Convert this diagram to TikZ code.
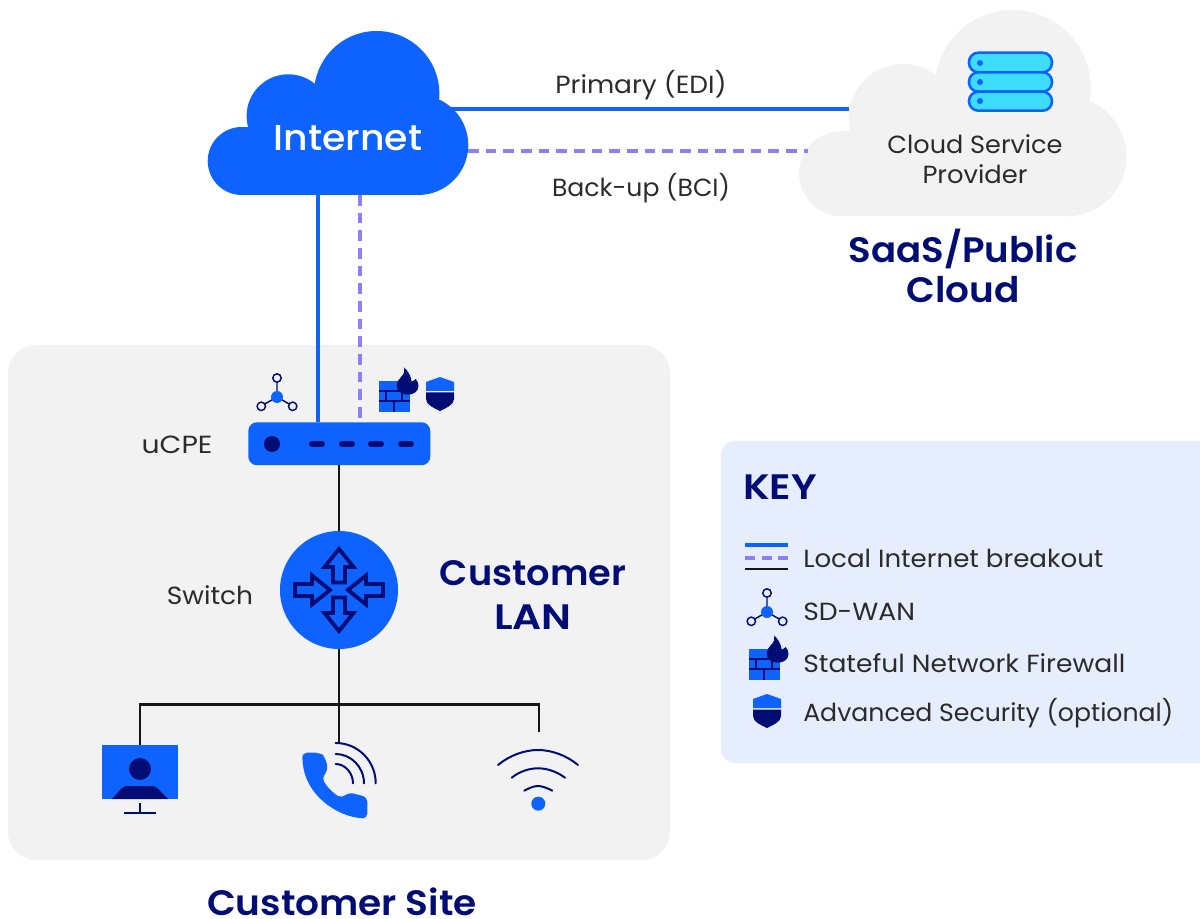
\documentclass[tikz,border=0pt]{standalone}
\usepackage{fontspec}
\usepackage{graphicx}
\setmainfont{Poppins}
\newfontfamily\headfont{Poppins SemiBold}
\newfontfamily\medfont{Poppins Medium}
\newcommand{\sx}[2]{\scalebox{#1}[1]{#2}}
\definecolor{brand}{HTML}{0E63FF}
\definecolor{navy}{HTML}{000D74}
\definecolor{lilac}{HTML}{8C7FFF}
\definecolor{panel}{HTML}{F2F2F2}
\definecolor{keybg}{HTML}{E6EDFC}
\definecolor{ink}{HTML}{2B2B2B}
\definecolor{wire}{HTML}{161616}
\definecolor{cyanfill}{HTML}{3DDCF8}
\tikzset{
  x=0.75pt,y=-0.75pt,
  lbl/.style={inner sep=0pt,text=ink,font=\fontsize{18.6}{22}\selectfont},
  keylbl/.style={lbl,anchor=west},
  head/.style={inner sep=0pt,text=navy,font=\fontsize{26.5}{30}\headfont},
  solidline/.style={draw=brand,line width=3pt},
  dashline/.style={draw=lilac,line width=3pt,dash pattern=on 8pt off 5.25pt},
  wireline/.style={draw=wire,line width=1.6pt},
  navyline/.style={draw=navy,line width=1.5pt,line cap=round},
  sdwanicon/.pic={
    \draw[navy,line width=1.1pt] (0,0)--(0,-15) (0,0)--(-13,7.5) (0,0)--(13,7.5);
    \fill[brand] (0,0) circle (6);
    \draw[navy,line width=1.1pt] (0,-19) circle (4.2) (-15.7,9.3) circle (4.2) (15.7,9.3) circle (4.2);
  },
  fwicon/.pic={
    \fill[brand] (0,0) rectangle (31,31);
    \draw[navy,line width=1.1pt] (0,10)--(31,10) (0,20)--(31,20) (7,10)--(7,20) (23,10)--(23,20) (15,20)--(15,31);
    \fill[navy] (25.3,-13.5) .. controls (29,-10) and (32,-5) .. (32.7,0.5)
      .. controls (34,0) and (35.5,-0.5) .. (36.7,-2) .. controls (38.5,0) and (39.5,2.5) .. (39.5,5)
      .. controls (39.5,10) and (35,13.7) .. (29,13.7) .. controls (23,13.7) and (17.7,10.5) .. (17.7,5)
      .. controls (17.7,1) and (20,-2) .. (22,-4) .. controls (25,-7) and (26,-10) .. (25.3,-13.5) -- cycle;
  },
  shieldicon/.pic={
    \fill[brand] (0,0) -- (14,5) -- (14,14) -- (-14,14) -- (-14,5) -- cycle;
    \fill[navy] (-14,15.5) -- (14,15.5) -- (14,22) .. controls (14,28) and (6,31) .. (0,34)
      .. controls (-6,31) and (-14,28) .. (-14,22) -- cycle;
  },
  arrowoutline/.style={draw=navy,line width=2.9pt,miter limit=10},
}
\begin{document}
\begin{tikzpicture}
\useasboundingbox (0,0) rectangle (1200,919);
% panels
\fill[panel,rounded corners=21pt] (8,345) rectangle (670,860);
\begin{scope}
\clip (0,0) rectangle (1200,919);
\fill[keybg,rounded corners=10.5pt] (721,441) rectangle (1215,763);
\end{scope}
% Internet cloud
\fill[brand] (288.3,116) circle (41.7);
\fill[brand] (376.7,93.7) circle (62.7);
\fill[brand] (418.3,145) circle (50);
\fill[brand] (241.7,161) circle (34);
\fill[brand] (241.7,127) rectangle (418.3,195);
\fill[brand] (288.3,100) rectangle (418.3,195);
% Provider cloud
\fill[panel] (1012.7,88) circle (78);
\fill[panel] (902.7,118) circle (54);
\fill[panel] (1066.7,156.5) circle (59.8);
\fill[panel] (841.7,173.7) circle (42.6);
\fill[panel] (841.7,131.1) rectangle (1066.7,216.3);
\fill[panel] (902.7,100) rectangle (1066.7,216.3);
% server icon
\foreach \ya/\yb/\yc in {52.7/72.3/63,72.3/91.7/82,91.7/110.7/101}{
  \draw[fill=cyanfill,draw=brand,line width=1.9pt,rounded corners=7pt] (969,\ya) rectangle (1052,\yb);
  \fill[brand] (980,\yc) circle (3);
}
% device nodes
\node (ucpe) [draw=none,fill=brand,rounded corners=6.5pt,minimum width=136.5pt,minimum height=32.2pt,inner sep=0pt,anchor=north west] at (248,422) {};
\node (switch) [circle,fill=brand,minimum size=88.5pt,inner sep=0pt] at (339,590) {};
\node (monitor) [fill=brand,minimum width=57pt,minimum height=40.5pt,inner sep=0pt,anchor=north west] at (102,745) {};
% connector ends
\coordinate (inetE1) at (448,109);
\coordinate (cspE1) at (849,109);
\coordinate (inetE2) at (468,151);
\coordinate (cspE2) at (808,151);
\coordinate (inetS1) at (318,195);
\coordinate (inetS2) at (360,195);
\coordinate (ucpeN1) at (318,422);
\coordinate (ucpeN2) at (360,422);
\coordinate (ucpeS) at (339,465);
\coordinate (switchN) at (339,531);
\coordinate (switchS) at (339,649);
\coordinate (bus) at (339,704.5);
\coordinate (phoneTop) at (339,742);
\coordinate (wifiTop) at (539,732);
\coordinate (monTop) at (140,745);
\draw[solidline] (inetE1) -- (cspE1);
\draw[dashline] (inetE2) -- (cspE2);
\draw[solidline] (inetS1) -- (ucpeN1);
\draw[dashline] (inetS2) -- (ucpeN2);
\draw[wireline] (ucpeS) -- (switchN);
\draw[wireline] (switchS) -- (phoneTop);
\draw[wireline] (monTop) |- (bus) -| (wifiTop);
% uCPE details
\fill[navy] (272,444) circle (8);
\foreach \xa/\xb in {309/325,339/355,368/384,398/414}{
  \draw[navy,line width=4.5pt,line cap=round] (\xa+3,444) -- (\xb-3,444);
}
% switch arrows
\begin{scope}[shift={(switch.center)}]
  \path[arrowoutline] (0,-41)--(14.5,-23)--(6,-23)--(6,-7.5)--(-6,-7.5)--(-6,-23)--(-14.5,-23)--cycle;
  \path[arrowoutline] (0,41)--(14.5,23)--(6,23)--(6,7.5)--(-6,7.5)--(-6,23)--(-14.5,23)--cycle;
  \path[arrowoutline] (-9,0)--(-27,14.5)--(-27,6)--(-44,6)--(-44,-6)--(-27,-6)--(-27,-14.5)--cycle;
  \path[arrowoutline] (9,0)--(27,14.5)--(27,6)--(44,6)--(44,-6)--(27,-6)--(27,-14.5)--cycle;
\end{scope}
% icons
\pic at (277,397) {sdwanicon};
\pic at (767,612) {sdwanicon};
\pic at (379,381) {fwicon};
\pic at (749,649) {fwicon};
\pic at (440,377) {shieldicon};
\pic at (767,694) {shieldicon};
% monitor
\fill[navy] (140,769) circle (11);
\fill[navy] (112,799) -- (122,788) .. controls (124,786) and (126,786) .. (128,786) -- (150,786) .. controls (153,786) and (155,786) .. (157,788) -- (168,799) -- cycle;
\draw[navy,line width=1.5pt] (140,803) -- (140,813) (124,813) -- (156,813);
% phone
\fill[brand,rounded corners=3.5pt] (302.3,752.7) -- (320,752.7) -- (325,756.7) -- (328.3,770) -- (321.7,777.7)
  .. controls (327,787) and (333,793) .. (341.7,798.3) -- (348.3,792.3) -- (367.3,797) -- (367.3,818.3) -- (361.7,818.3)
  .. controls (338,815) and (306,797) .. (302.3,758.3) -- cycle;
\draw[navyline] (335.7,743) .. controls (358,743) and (375.7,761) .. (375.7,783.3);
\draw[navyline] (335.7,754) .. controls (351,754) and (364,767) .. (364,783.3);
\draw[navyline] (335.7,764) .. controls (345,764) and (353,773) .. (353,783.3);
% wifi
\draw[navyline] (498,765) .. controls (510,755) and (525,750) .. (538,750) .. controls (551,750) and (566,755) .. (578,765);
\draw[navyline] (511.7,777.7) .. controls (520,771) and (530,768.3) .. (538,768.3) .. controls (546,768.3) and (556,771) .. (565,777.7);
\draw[navyline] (524.3,790.7) .. controls (529,788) and (534,786) .. (538,786) .. controls (542,786) and (547,788) .. (552.3,790.7);
\fill[brand] (538.3,803.7) circle (7);
% key lines
\coordinate (keyA) at (745,545);
\coordinate (keyB) at (788,545);
\coordinate (keyC) at (745,558);
\coordinate (keyD) at (788,558);
\coordinate (keyE) at (745,569);
\coordinate (keyF) at (788,569);
\draw[draw=brand,line width=2.6pt] (keyA) -- (keyB);
\draw[draw=lilac,line width=2.6pt,dash pattern=on 7.5pt off 5pt] (keyC) -- (keyD);
\draw[wireline] (keyE) -- (keyF);
% text
\node (tInet) [inner sep=0pt,text=white,font=\fontsize{27}{30}\medfont] at (348,138) {\sx{1.05}{Internet}};
\node (tPrim) [lbl] at (641,85) {\sx{1.066}{Primary (EDI)}};
\node (tBack) [lbl] at (641,188) {\sx{1.013}{Back-up (BCI)}};
\node (tCSPa) [lbl] at (975,144) {\sx{1.03}{Cloud Service}};
\node (tCSPb) [lbl] at (975,174) {\sx{1.04}{Provider}};
\node (tSaaSa) [head] at (963,249) {\sx{1.05}{SaaS/Public}};
\node (tSaaSb) [head] at (963,290) {\sx{1.06}{Cloud}};
\node (tUcpe) [lbl] at (177,445) {\sx{1.14}{uCPE}};
\node (tSwitch) [lbl] at (210,595) {\sx{1.066}{Switch}};
\node (tLana) [head] at (533,573) {\sx{1.04}{Customer}};
\node (tLanb) [head] at (533,617) {\sx{1.15}{LAN}};
\node (tSite) [head] at (342,902) {\sx{1.06}{Customer Site}};
\node (tKey) [head,anchor=west] at (743,487) {\sx{1.14}{KEY}};
\node (k1) [keylbl] at (803,558) {\sx{1.052}{Local Internet breakout}};
\node (k2) [keylbl] at (803,612) {\sx{1.074}{SD-WAN}};
\node (k3) [keylbl] at (803,663) {\sx{1.071}{Stateful Network Firewall}};
\node (k4) [keylbl] at (803,713) {\sx{1.015}{Advanced Security (optional)}};
\end{tikzpicture}
\end{document}
